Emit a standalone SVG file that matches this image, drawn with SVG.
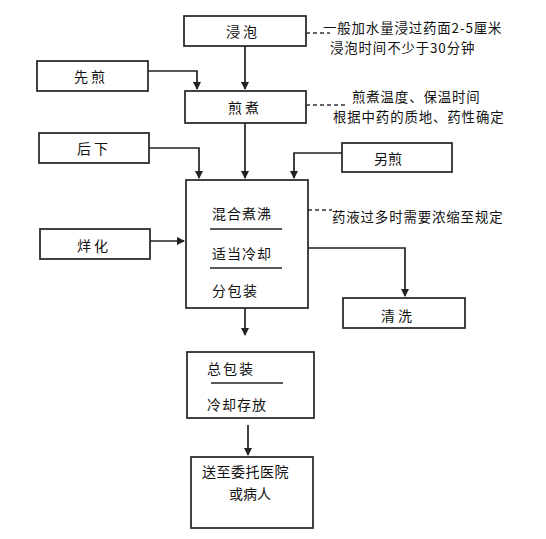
<svg xmlns="http://www.w3.org/2000/svg" width="546" height="539" viewBox="0 0 546 539">
<defs>
<marker id="ah" markerWidth="8" markerHeight="8" refX="7" refY="4" orient="auto" markerUnits="userSpaceOnUse">
<path d="M0,0 L8,4 L0,8 Z" fill="#222"/>
</marker>
<style>
rect.box{fill:#fff;stroke:#222;stroke-width:1.7}
text{font-family:"Noto Sans CJK SC","Noto Sans",sans-serif;font-size:14px;fill:#111;dominant-baseline:central}
.c{text-anchor:middle}
.sp{letter-spacing:3px}
.note{font-size:13.4px;letter-spacing:0.9px}
.conn{fill:none;stroke:#222;stroke-width:1.7}
.dash{fill:none;stroke:#333;stroke-width:1.3;stroke-dasharray:4 3}
.div{stroke:#222;stroke-width:1.5}
</style>
</defs>
<rect width="546" height="539" fill="#fff"/>
<g id="connectors">
<path class="conn" d="M245,46 V89" marker-end="url(#ah)"/>
<path class="conn" d="M148,71 H197 V89" marker-end="url(#ah)"/>
<path class="conn" d="M245,123 V178" marker-end="url(#ah)"/>
<path class="conn" d="M149,148 H199 V178" marker-end="url(#ah)"/>
<path class="conn" d="M342,153 H294 V178" marker-end="url(#ah)"/>
<path class="conn" d="M150,241 H184" marker-end="url(#ah)"/>
<path class="conn" d="M308,248 H405 V296" marker-end="url(#ah)"/>
<path class="conn" d="M245,308 V335" marker-end="url(#ah)"/>
<path class="conn" d="M248,425 V455" marker-end="url(#ah)"/>
<path class="dash" d="M306,33 H330"/>
<path class="dash" d="M306,105 H345"/>
<path class="dash" d="M308,210 H332"/>
</g>
<g id="jinpao">
<rect class="box" x="184" y="16" width="122" height="30"/>
<text class="c sp" x="243" y="31">浸泡</text>
</g>
<g id="note1">
<text class="note"><tspan x="323" y="27">一般加水量浸过药面2-5厘米</tspan><tspan x="330" y="46.5">浸泡时间不少于30分钟</tspan></text>
</g>
<g id="xianjian">
<rect class="box" x="37" y="61" width="111" height="30"/>
<text class="c sp" x="91" y="76">先煎</text>
</g>
<g id="jianzhu">
<rect class="box" x="185" y="91" width="121" height="32"/>
<text class="c sp" x="245" y="107">煎煮</text>
</g>
<g id="note2">
<text class="note"><tspan x="352" y="96">煎煮温度、保温时间</tspan><tspan x="333" y="115.5">根据中药的质地、药性确定</tspan></text>
</g>
<g id="houxia">
<rect class="box" x="39" y="133" width="110" height="30"/>
<text class="c sp" x="94" y="148">后下</text>
</g>
<g id="lingjian">
<rect class="box" x="342" y="143" width="110" height="29"/>
<text class="c" x="388" y="158">另煎</text>
</g>
<g id="main">
<rect class="box" x="186" y="180" width="122" height="128"/>
<text x="212" y="213" style="letter-spacing:1px">混合煮沸</text>
<line class="div" x1="210" y1="229" x2="282" y2="229"/>
<text x="212" y="253" style="letter-spacing:1px">适当冷却</text>
<line class="div" x1="210" y1="268" x2="282" y2="268"/>
<text x="212" y="290" style="letter-spacing:1.5px">分包装</text>
</g>
<g id="note3">
<text class="note" x="332" y="216">药液过多时需要浓缩至规定</text>
</g>
<g id="yanghua">
<rect class="box" x="40" y="229" width="110" height="30"/>
<text class="c sp" x="94" y="245">烊化</text>
</g>
<g id="qingxi">
<rect class="box" x="343" y="298" width="122" height="30"/>
<text class="c sp" x="398" y="315">清洗</text>
</g>
<g id="zongbaozhuang">
<rect class="box" x="187" y="352" width="127" height="66"/>
<text x="207" y="368" style="letter-spacing:2px">总包装</text>
<line class="div" x1="211" y1="383" x2="283" y2="383"/>
<text x="207" y="404" style="letter-spacing:1px">冷却存放</text>
</g>
<g id="songzhi">
<rect class="box" x="191" y="457" width="122" height="71"/>
<text x="202" y="471" style="letter-spacing:0.5px">送至委托医院</text>
<text class="c" x="250" y="493">或病人</text>
</g>
</svg>
